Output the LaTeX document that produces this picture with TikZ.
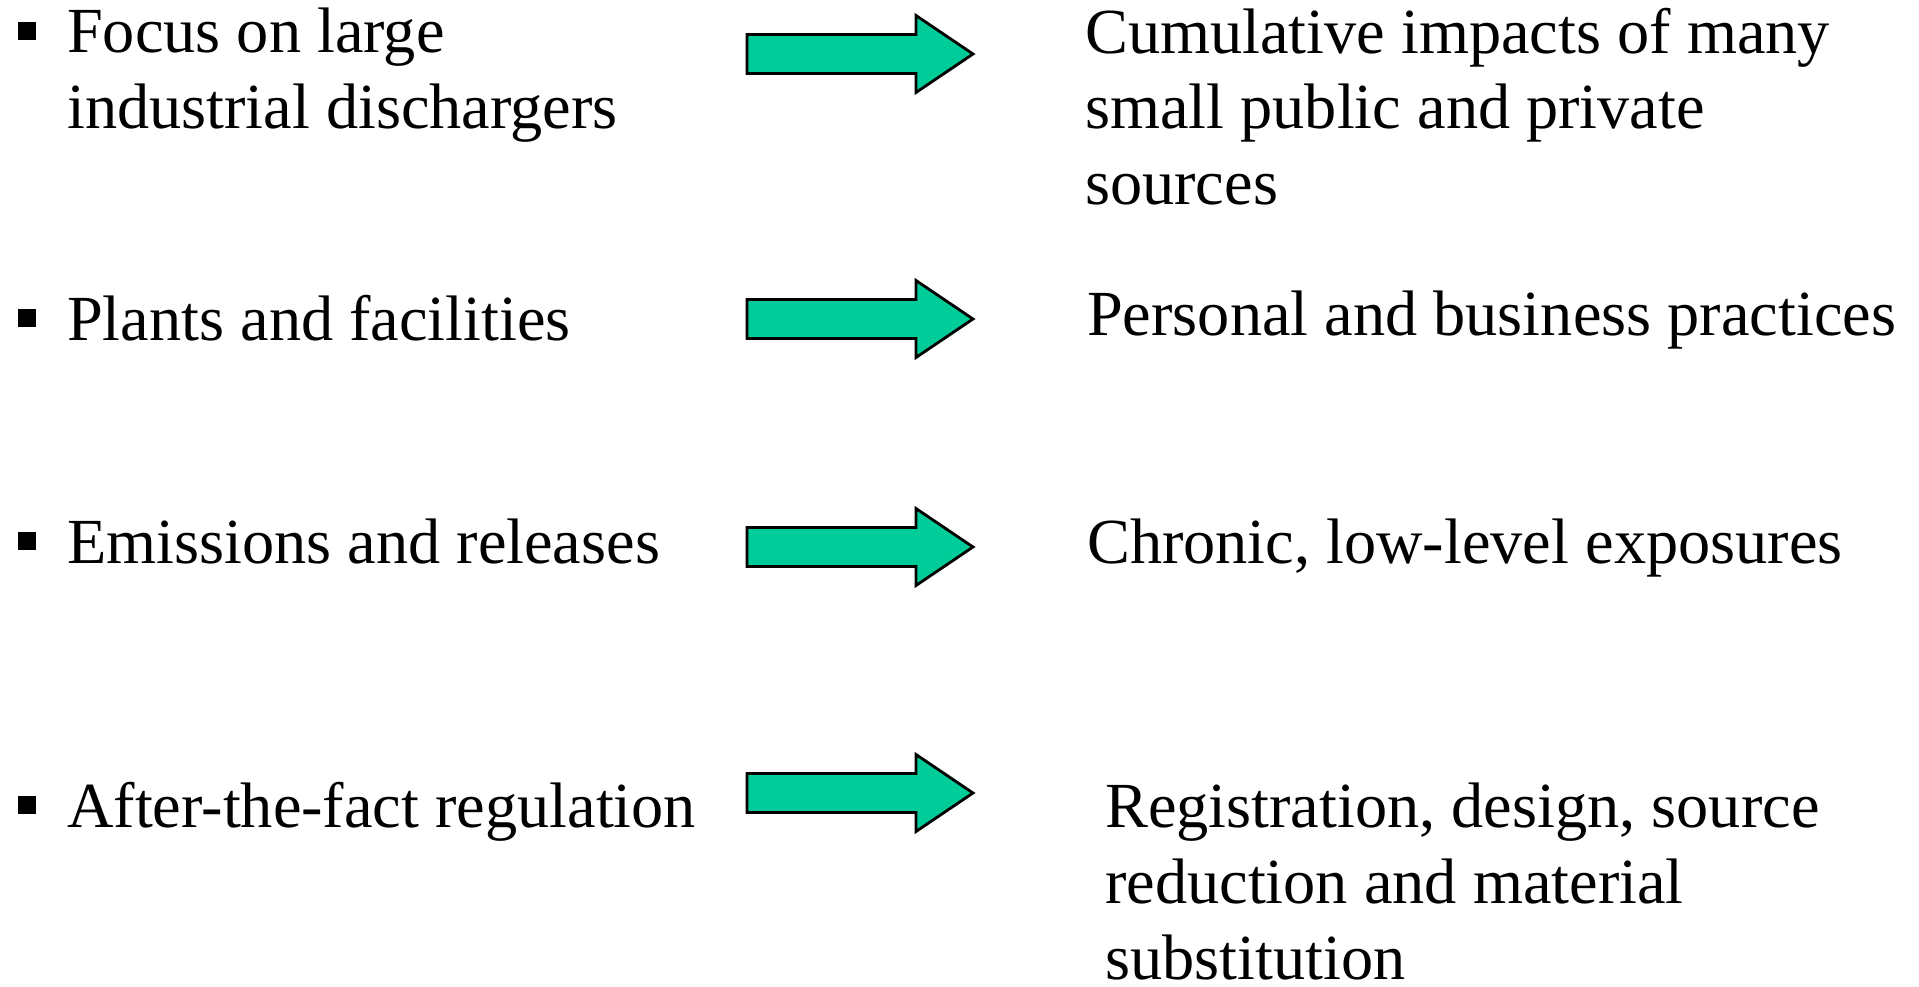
\documentclass[tikz,border=0pt]{standalone}
\usepackage{fontspec}
\setmainfont{Liberation Serif}
\begin{document}
\begin{tikzpicture}[x=1pt,y=-1pt,
  itemtext/.style={anchor=base west,inner sep=0pt,align=left,
    font=\fontsize{64.3}{76}\selectfont},
  bulletbox/.style={fill=black,draw=none,minimum size=18pt,inner sep=0pt},
  bigarrow/.style={fill=arrowgreen,draw=black,line width=2.8pt,line join=miter}]
\definecolor{arrowgreen}{HTML}{00CC99}
\useasboundingbox (0,0) rectangle (1919,987);
% left column (base anchor = baseline of the last line)
\node[bulletbox] (b1) at (26.5,31) {};
\node[itemtext] (l1) at (67,129) {Focus on large\\industrial dischargers};
\node[bulletbox] (b2) at (26.5,318) {};
\node[itemtext] (l2) at (67,340) {Plants and facilities};
\node[bulletbox] (b3) at (26.5,541) {};
\node[itemtext] (l3) at (67,563) {Emissions and releases};
\node[bulletbox] (b4) at (26.5,805) {};
\node[itemtext] (l4) at (67,827) {After-the-fact regulation};
% right column
\node[itemtext] (r1) at (1085,205) {Cumulative impacts of many\\small public and private\\sources};
\node[itemtext] (r2) at (1087,335) {Personal and business practices};
\node[itemtext] (r3) at (1087,563) {Chronic, low-level exposures};
\node[itemtext] (r4) at (1105,979) {Registration, design, source\\reduction and material\\substitution};
% arrows
\foreach \c in {54,319,547,793}{
  \draw[bigarrow] (747,\c-19.5) -- (916,\c-19.5) -- (916,\c-38.5) -- (973,\c)
    -- (916,\c+38.5) -- (916,\c+19.5) -- (747,\c+19.5) -- cycle;
}
\end{tikzpicture}
\end{document}
